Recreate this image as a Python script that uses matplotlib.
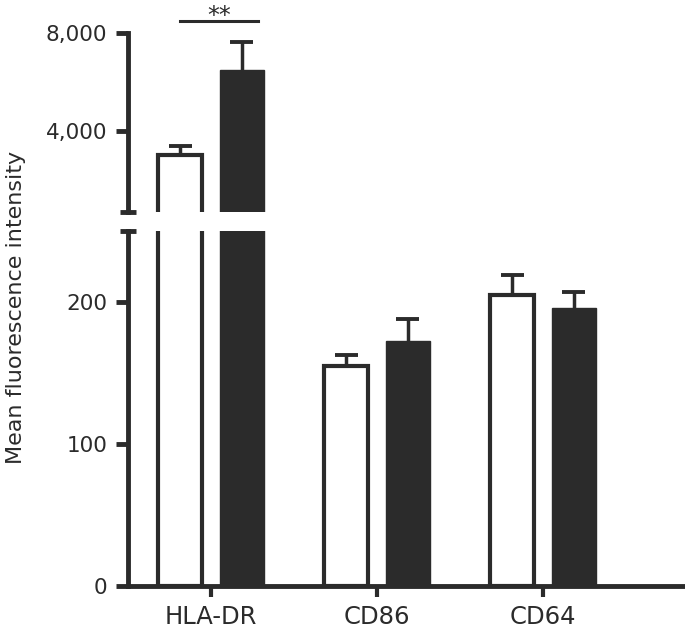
import numpy as np
from matplotlib import pyplot as plt

############# Data ############
markers = ['HLA-DR', 'CD86', 'CD64']
open_vals = [3020, 155, 205]
open_err = [370, 8, 14]
filled_vals = [6490, 172.5, 196]
filled_err = [1140, 15.5, 11]
upper_ticks = [4000, 8000]
lower_ticks = [0, 100, 200]
###############################

INK = '#2b2b2b'
plt.rcParams['font.family'] = ['DejaVu Sans']
plt.rcParams['font.size'] = 15.5

fig = plt.figure(figsize=(6.85, 6.32), dpi=100)
ax_up = fig.add_axes([0.187, 0.6646, 0.813, 0.2832])
ax_lo = fig.add_axes([0.187, 0.0728, 0.813, 0.5612])

x = np.arange(len(markers))
w = 0.265
off = 0.185
cap = 0.07


def err_up(ax, xs, vals, errs):
	vals = np.asarray(vals)
	tops = vals + np.asarray(errs)
	ax.vlines(xs, vals, tops, color=INK, lw=2.5, zorder=2)
	ax.hlines(tops, xs - cap, xs + cap, color=INK, lw=2.8, zorder=2)


for ax in (ax_up, ax_lo):
	ax.bar(x - off, open_vals, w, color='white', edgecolor=INK, linewidth=3, zorder=3)
	ax.bar(x + off, filled_vals, w, color=INK, edgecolor=INK, linewidth=1, zorder=3)
	err_up(ax, x - off, open_vals, open_err)
	err_up(ax, x + off, filled_vals, filled_err)
	ax.set_xlim(-0.5, 2.855)
	for s in ('top', 'right'):
		ax.spines[s].set_visible(False)
	ax.spines['left'].set_linewidth(3.5)
	ax.spines['left'].set_color(INK)
	ax.tick_params(axis='y', length=9, width=3.5, color=INK, labelcolor=INK, pad=6)

ax_up.set_ylim(694, 8000)
ax_up.set_yticks(upper_ticks)
ax_up.set_yticklabels(['{:,}'.format(v) for v in upper_ticks])
ax_up.set_yticks([694], minor=True)
ax_up.tick_params(axis='y', which='minor', direction='inout', length=12, width=3.5, color=INK)
ax_up.spines['bottom'].set_visible(False)
ax_up.set_xticks([])

ax_lo.set_ylim(0, 250)
ax_lo.set_yticks(lower_ticks)
ax_lo.set_yticks([250], minor=True)
ax_lo.tick_params(axis='y', which='minor', direction='inout', length=12, width=3.5, color=INK)
ax_lo.spines['bottom'].set_linewidth(3.5)
ax_lo.spines['bottom'].set_color(INK)
ax_lo.set_xticks(x)
ax_lo.set_xticklabels(markers, fontsize=17.5)
ax_lo.tick_params(axis='x', length=8, width=3, color=INK, labelcolor=INK, pad=6)

# significance bracket
ax_up.plot([x[0] - off, x[0] + off + 0.1], [8500, 8500], color=INK, lw=2.2, clip_on=False)
ax_up.text(x[0] + 0.05, 9180, '**', ha='center', va='top', fontsize=17, color=INK)

fig.text(0.024, 0.513, 'Mean fluorescence intensity', rotation=90,
		 ha='center', va='center', fontsize=16, color=INK)

fig.savefig('out.png', dpi=100)
